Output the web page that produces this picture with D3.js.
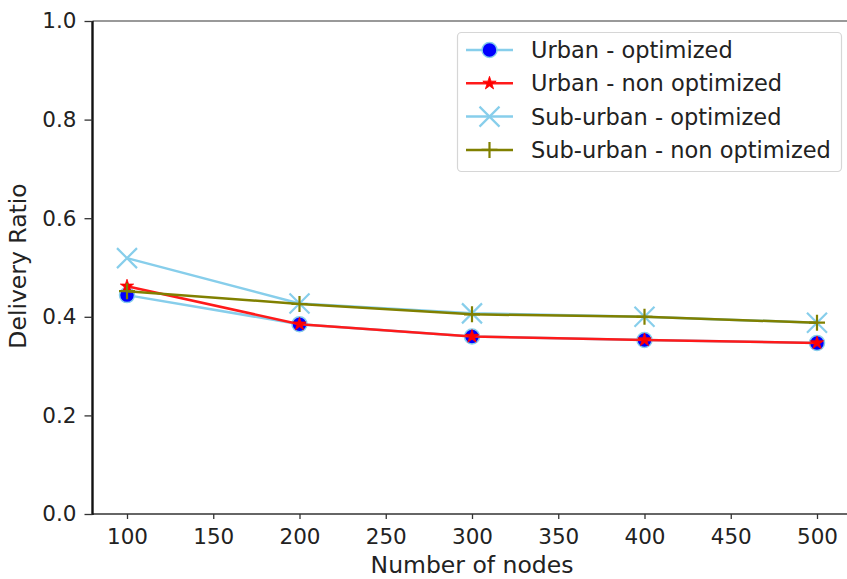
<!DOCTYPE html>
<html><head><meta charset="utf-8">
<script src="https://cdn.jsdelivr.net/npm/d3@7"></script>
<style>
body{margin:0;background:#fff;}
svg{display:block;font-family:"DejaVu Sans",sans-serif;}
</style></head>
<body><svg id="c" width="847" height="579"></svg>
<script>
const nodes = [100, 200, 300, 400, 500];
const urbanOpt = [0.444, 0.385, 0.360, 0.353, 0.347];
const urbanNonOpt = [0.462, 0.385, 0.360, 0.353, 0.347];
const subOpt = [0.519, 0.427, 0.407, 0.400, 0.388];
const subNonOpt = [0.452, 0.426, 0.405, 0.400, 0.388];
const xTicks = [100, 150, 200, 250, 300, 350, 400, 450, 500];
const yTicks = [0.0, 0.2, 0.4, 0.6, 0.8, 1.0];
const seriesNames = ["Urban - optimized", "Urban - non optimized", "Sub-urban - optimized", "Sub-urban - non optimized"];

const svg = d3.select("#c");
const L = 92.5, R = 851.5, T = 21, B = 514;
const x = d3.scaleLinear().domain([80, 520]).range([L, R]);
const y = d3.scaleLinear().domain([0, 1]).range([B, T]);
const FS = 21.5, LFS = 22.5, AFS = 23.5;

// spines
svg.append("line").attr("x1", L).attr("x2", 847).attr("y1", T).attr("y2", T).attr("stroke", "#777").attr("stroke-width", 1.6);
svg.append("line").attr("x1", L).attr("x2", 847).attr("y1", B).attr("y2", B).attr("stroke", "#666").attr("stroke-width", 1.8);
svg.append("line").attr("x1", L).attr("x2", L).attr("y1", T).attr("y2", B + 1).attr("stroke", "#111").attr("stroke-width", 2.4);

// x axis
const xa = svg.append("g").attr("transform", `translate(0,${B})`)
  .call(d3.axisBottom(x).tickValues(xTicks).tickSize(5).tickPadding(10).tickFormat(d3.format("d")));
xa.select(".domain").remove();
xa.selectAll("line").attr("stroke", "#333").attr("stroke-width", 1.3);
xa.selectAll("text").attr("font-size", FS).attr("fill", "#222").attr("font-family", "DejaVu Sans");

// y axis
const ya = svg.append("g").attr("transform", `translate(${L},0)`)
  .call(d3.axisLeft(y).tickValues(yTicks).tickSize(8).tickPadding(8).tickFormat(d3.format(".1f")));
ya.select(".domain").remove();
ya.selectAll("line").attr("stroke", "#333").attr("stroke-width", 1.3);
ya.selectAll("text").attr("font-size", FS).attr("fill", "#222").attr("font-family", "DejaVu Sans");

// labels
svg.append("text").attr("x", (L + R) / 2).attr("y", 573).attr("text-anchor", "middle")
  .attr("font-size", AFS).attr("fill", "#222").text("Number of nodes");
svg.append("text").attr("transform", `translate(26,266) rotate(-90)`).attr("text-anchor", "middle")
  .attr("font-size", AFS).attr("fill", "#222").text("Delivery Ratio");

const series = [
  {name: seriesNames[0], vals: urbanOpt, color: "#87CEEB", marker: "circle"},
  {name: seriesNames[1], vals: urbanNonOpt, color: "#ff1a1a", marker: "star"},
  {name: seriesNames[2], vals: subOpt, color: "#87CEEB", marker: "x"},
  {name: seriesNames[3], vals: subNonOpt, color: "#808000", marker: "plus"}
];

function drawMarker(g, type, cx, cy, color) {
  if (type === "circle") {
    g.append("circle").attr("cx", cx).attr("cy", cy).attr("r", 7.5).attr("fill", "#0000ff")
      .attr("stroke", "#87CEEB").attr("stroke-width", 1.5);
  } else if (type === "star") {
    const star = d3.symbol().type(d3.symbolStar).size(55);
    g.append("path").attr("d", star()).attr("transform", `translate(${cx},${cy})`).attr("fill", "#ff0000")
      .attr("stroke", "#ff0000").attr("stroke-width", 0.8);
  } else if (type === "x") {
    const s = 10;
    g.append("path").attr("d", `M${cx - s},${cy - s}L${cx + s},${cy + s}M${cx - s},${cy + s}L${cx + s},${cy - s}`)
      .attr("stroke", color).attr("stroke-width", 2.2).attr("fill", "none");
  } else if (type === "plus") {
    const s = 8;
    g.append("path").attr("d", `M${cx - s},${cy}L${cx + s},${cy}M${cx},${cy - s}L${cx},${cy + s}`)
      .attr("stroke", color).attr("stroke-width", 2.2).attr("fill", "none");
  }
}

const plot = svg.append("g");
const line = d3.line().x((d, i) => x(nodes[i])).y(d => y(d));
series.forEach(s => {
  const g = plot.append("g");
  g.append("path").attr("d", line(s.vals)).attr("fill", "none").attr("stroke", s.color).attr("stroke-width", 2.5);
  s.vals.forEach((v, i) => drawMarker(g, s.marker, x(nodes[i]), y(v), s.color));
});

// legend
const lg = svg.append("g");
lg.append("rect").attr("x", 457.5).attr("y", 32.5).attr("width", 384).attr("height", 139).attr("rx", 4)
  .attr("fill", "#fff").attr("fill-opacity", 0.85).attr("stroke", "#d6d6d6").attr("stroke-width", 1.2);
series.forEach((s, i) => {
  const cy = 50 + i * 33.3;
  lg.append("line").attr("x1", 466).attr("x2", 513).attr("y1", cy).attr("y2", cy).attr("stroke", s.color).attr("stroke-width", 2.5);
  drawMarker(lg, s.marker, 489.5, cy, s.color);
  lg.append("text").attr("x", 531).attr("y", cy).attr("dy", "0.36em").attr("font-size", LFS).attr("fill", "#222").text(s.name);
});
</script></body></html>
